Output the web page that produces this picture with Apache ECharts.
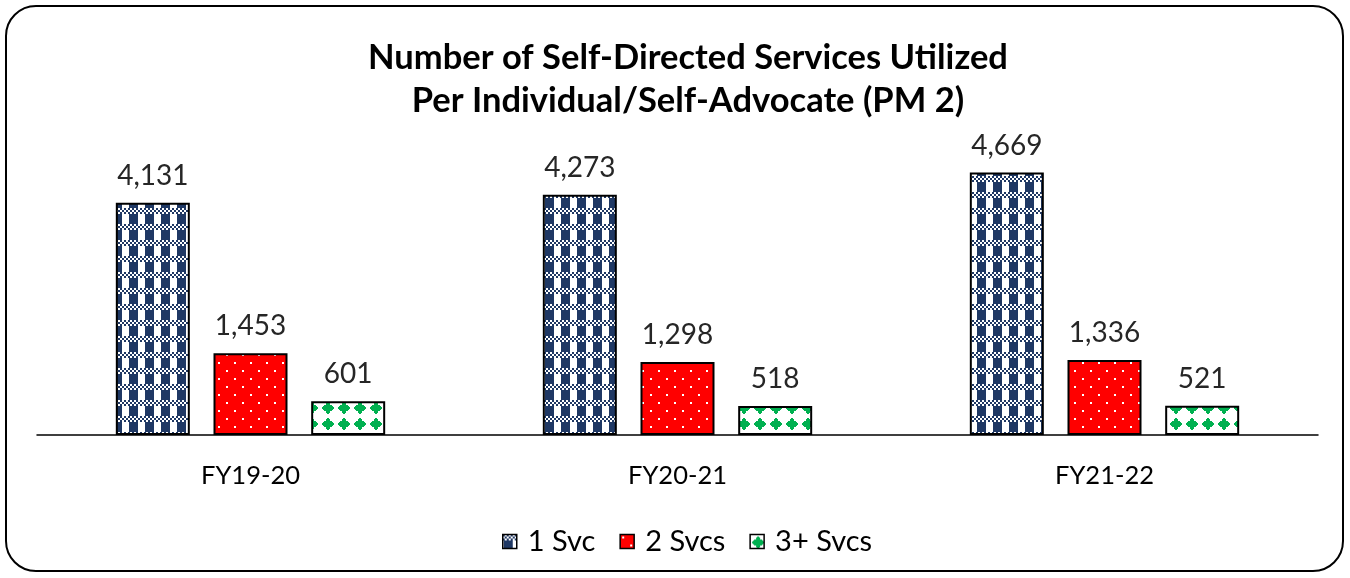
<!DOCTYPE html>
<html>
<head>
<meta charset="utf-8">
<script src="https://cdn.jsdelivr.net/npm/echarts@6/dist/echarts.min.js"></script>
<style>
  html, body { margin: 0; padding: 0; background: #fff; }
  #main { width: 1350px; height: 578px; }
</style>
</head>
<body>
<div id="main"></div>
<script>
var categories = ['FY19-20', 'FY20-21', 'FY21-22'];
var seriesNames = ['1 Svc', '2 Svcs', '3+ Svcs'];
var oneSvc = [4131, 4273, 4669];
var twoSvcs = [1453, 1298, 1336];
var threePlusSvcs = [601, 518, 521];

// ---- fill patterns (drawn on small canvases) ----
function makeTile(w, h, draw) {
    var c = document.createElement('canvas');
    c.width = w;
    c.height = h;
    draw(c.getContext('2d'));
    return c;
}

// navy checker/column pattern
var navyTile = makeTile(16, 16, function(ctx) {
    ctx.fillStyle = '#fff';
    ctx.fillRect(0, 0, 16, 16);
    ctx.fillStyle = '#1F3864';
    for (var y = 0; y < 6; y += 2) {
        for (var x = 0; x < 16; x += 2) {
            if (((x + y) / 2) % 2 === 0) ctx.fillRect(x, y, 2, 2);
        }
    }
    ctx.fillRect(1, 6, 9, 10);
});

// red with white dots
var redTile = makeTile(16, 16, function(ctx) {
    ctx.fillStyle = '#FF0000';
    ctx.fillRect(0, 0, 16, 16);
    ctx.fillStyle = '#fff';
    ctx.fillRect(2, 2, 2, 2);
    ctx.fillRect(10, 10, 2, 2);
});

// green stepped diamonds on white
var greenTile = makeTile(16, 16, function(ctx) {
    ctx.fillStyle = '#fff';
    ctx.fillRect(0, 0, 16, 16);
    ctx.fillStyle = '#00B050';
    var halfWidths = [1, 2, 2, 4, 5, 6, 6, 5, 4, 2, 2, 1];
    for (var r = 0; r < halfWidths.length; r++) {
        var hw = halfWidths[r];
        ctx.fillRect(8 - hw, 2 + r, hw * 2, 1);
    }
});

var fills = [
    { image: navyTile, repeat: 'repeat' },
    { image: redTile, repeat: 'repeat' },
    { image: greenTile, repeat: 'repeat' }
];
var values = [oneSvc, twoSvcs, threePlusSvcs];

var chart = echarts.init(document.getElementById('main'));

var series = seriesNames.map(function(name, i) {
    return {
        name: name,
        type: 'bar',
        data: values[i],
        barWidth: 74,
        barGap: '32%',
        itemStyle: {
            color: fills[i],
            borderColor: '#000',
            borderWidth: 2
        },
        label: {
            show: true,
            position: 'top',
            distance: 13,
            fontFamily: 'Lato',
            fontSize: 28,
            color: '#262626',
            formatter: function(p) {
                return p.value.toLocaleString('en-US');
            }
        }
    };
});

var option = {
    animation: false,
    backgroundColor: '#fff',
    textStyle: { fontFamily: 'Lato' },
    title: {
        text: 'Number of Self-Directed Services Utilized\nPer Individual/Self-Advocate (PM 2)',
        left: 683,
        top: 31,
        textAlign: 'center',
        textStyle: {
            fontFamily: 'Lato',
            fontWeight: 'bold',
            fontSize: 34.5,
            lineHeight: 43,
            color: '#000'
        }
    },
    legend: {
        data: seriesNames,
        icon: 'rect',
        bottom: 17,
        left: 497,
        itemWidth: 14,
        itemHeight: 14,
        itemGap: 24,
        itemStyle: { borderColor: '#000', borderWidth: 1.5 },
        textStyle: { fontFamily: 'Lato', fontSize: 29, color: '#000', padding: [0, 0, 0, 6] }
    },
    grid: {
        left: 37,
        right: 32,
        top: 154,
        bottom: 143,
        containLabel: false
    },
    xAxis: {
        type: 'category',
        data: categories,
        axisLine: { lineStyle: { color: '#000', width: 1.5 } },
        axisTick: { show: false },
        axisLabel: {
            margin: 28,
            fontFamily: 'Lato',
            fontSize: 25.5,
            color: '#000'
        }
    },
    yAxis: {
        type: 'value',
        min: 0,
        max: 5000,
        show: false,
        splitLine: { show: false }
    },
    graphic: [{
        type: 'rect',
        shape: { x: 6, y: 6, width: 1337, height: 565, r: 30 },
        style: { fill: 'none', stroke: '#000', lineWidth: 2 },
        silent: true
    }],
    series: series
};

chart.setOption(option);
</script>
</body>
</html>
